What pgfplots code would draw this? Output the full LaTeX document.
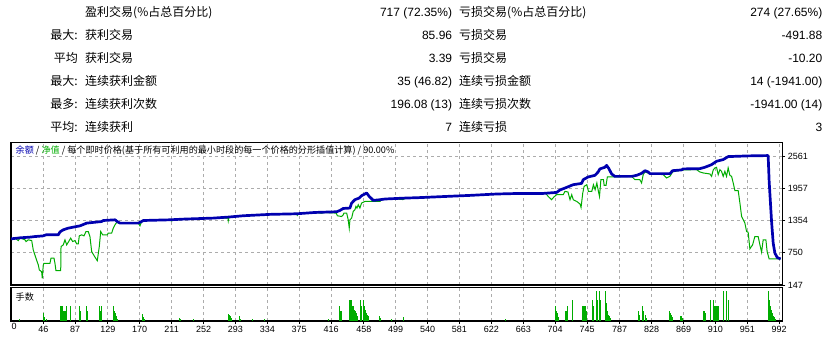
\documentclass[border=0pt]{standalone}
\usepackage{fontspec}
\setmainfont{Liberation Sans}
\newfontfamily\cjk{Noto Sans CJK SC}
\usepackage{pgfplots}
\pgfplotsset{compat=1.18}
\definecolor{bal}{RGB}{0,0,175}
\definecolor{eq}{RGB}{0,172,0}
\definecolor{gridc}{RGB}{172,172,172}
\begin{document}
\begin{tikzpicture}[x=1pt,y=1pt]
\useasboundingbox (0,0) rectangle (829,338);
\tikzset{
 tA/.style={anchor=base east, inner sep=0pt, font=\cjk\fontsize{12}{14}\selectfont},
 tB/.style={anchor=base west, inner sep=0pt, font=\cjk\fontsize{12}{14}\selectfont},
 tV/.style={anchor=base east, inner sep=0pt, font=\fontsize{12}{14}\selectfont}}
% row 1
\node[tB] at (85,321.3) {盈利交易(\%占总百分比)};
\node[tV] at (452.3,321.3) {717 (72.35\%)};
\node[tB] at (459,321.3) {亏损交易(\%占总百分比)};
\node[tV] at (822.5,321.3) {274 (27.65\%)};
% row 2
\node[tA] at (78,298.9) {最大:};
\node[tB] at (85,298.9) {获利交易};
\node[tV] at (452.3,298.9) {85.96};
\node[tB] at (459,298.9) {亏损交易};
\node[tV] at (822.5,298.9) {-491.88};
% row 3
\node[tA] at (78,275.9) {平均};
\node[tB] at (85,275.9) {获利交易};
\node[tV] at (452.3,275.9) {3.39};
\node[tB] at (459,275.9) {亏损交易};
\node[tV] at (822.5,275.9) {-10.20};
% row 4
\node[tA] at (78,252.6) {最大:};
\node[tB] at (85,252.6) {连续获利金额};
\node[tV] at (452.3,252.6) {35 (46.82)};
\node[tB] at (459,252.6) {连续亏损金额};
\node[tV] at (822.5,252.6) {14 (-1941.00)};
% row 5
\node[tA] at (78,229.6) {最多:};
\node[tB] at (85,229.6) {连续获利次数};
\node[tV] at (452.3,229.6) {196.08 (13)};
\node[tB] at (459,229.6) {连续亏损次数};
\node[tV] at (822.5,229.6) {-1941.00 (14)};
% row 6
\node[tA] at (78,206.6) {平均:};
\node[tB] at (85,206.6) {连续获利};
\node[tV] at (452.3,206.6) {7};
\node[tB] at (459,206.6) {连续亏损};
\node[tV] at (822.5,206.6) {3};

\begin{axis}[
 at={(11pt,53pt)}, anchor=south west, scale only axis,
 width=771.3pt, height=142.7pt,
 xmin=4.5, xmax=996, ymin=147, ymax=2824,
 axis line style={line width=1.2pt, black},
 xtick={46,87,129,170,211,252,293,334,375,416,458,499,540,581,622,663,704,745,787,828,869,910,951,992},
 xticklabels={},
 major x tick style={draw=none},
 ytick={147,750,1354,1957,2561},
 yticklabels={147,750,1354,1957,2561},
 xmajorgrids, ymajorgrids,
 grid style={gridc, dash pattern=on 3pt off 3pt, line width=1pt},
 ytick pos=right, yticklabel pos=right,
 tick align=outside, major tick length=3pt,
 major y tick style={black, line width=0.8pt},
 yticklabel style={font=\fontsize{9}{10}\selectfont, anchor=west, xshift=-1pt},
]
\addplot[eq, line width=1pt] coordinates {
(4.5,1013) (10.9,1013) (13.9,981) (16.1,1032) (22.5,994) (23.8,962) (26.7,994) (31.1,981) (33.1,806) (36.6,649) (39.6,523) (40.9,429) (43.9,397) (44.7,273) (46,523) (46.9,555) (54.6,555) (55.9,649) (59.8,649) (61,555) (62.3,416) (68.4,416) (68.8,868) (71.7,900) (73.9,994) (76.1,900) (79.4,981) (81.2,1026) (83.8,962) (86.7,981) (88.9,919) (91,919) (92.3,1069) (95.4,1088) (98.3,1069) (100.9,1150) (103.8,1150) (106,1056) (108.2,774) (112.5,668) (115.4,604) (118,868) (119.8,1150) (122.3,1088) (128.3,1088) (129.5,1120) (133.9,1120) (136,1214) (138.2,1276) (140.3,1320) (144.6,1308) (168.1,1308) (170.3,1257) (172.5,1338) (174.5,1357) (208.8,1370) (211,1346) (212.7,1370) (234.5,1383) (264.5,1402) (283.4,1402) (283.8,1352) (284.7,1421) (303,1446) (337.4,1472) (371.7,1483) (372.5,1455) (373.5,1483) (395.2,1508) (404.2,1493) (405,1508) (422.7,1496) (424,1446) (429.4,1432) (431.6,1464) (432.5,1496) (436,1496) (438,1370) (439.3,1214) (440.2,1370) (442.4,1402) (444.4,1527) (446.6,1559) (447.9,1621) (449.2,1590) (450.9,1653) (453,1590) (455.2,1685) (459.5,1715) (478.8,1715) (481,1747) (485.2,1760) (493.8,1766) (508.3,1750) (513.1,1779) (525.9,1775) (564.5,1809) (594.4,1828) (628.7,1854) (658.7,1865) (692,1865) (695,1809) (699.4,1747) (702.4,1798) (705.9,1841) (714.4,1841) (716.6,1903) (720.5,1892) (723.1,1747) (725.3,1841) (727.3,1747) (731.7,1715) (736,1666) (737.3,1602) (739.5,1873) (741.2,1997) (744.7,2029) (746.8,1903) (751.1,1903) (753.2,2029) (755.4,1935) (757.6,2061) (759.6,1903) (761,1809) (762.8,2123) (766.1,2123) (767,2016) (769.4,2016) (771.1,2174) (780.8,2174) (802.3,2185) (806.5,2123) (812.9,2123) (815.1,2061) (817.2,2217) (819.4,2268) (825.8,2236) (842.9,2217) (847.2,2155) (851.5,2185) (855,2268) (866.5,2306) (885.8,2311) (890,2268) (894.3,2249) (902.9,2230) (905.1,2185) (907.2,2306) (909.3,2343) (911.5,2355) (913.6,2217) (915.8,2311) (917.9,2279) (920,2185) (922.2,2279) (924.3,2185) (926.4,2343) (928.6,2204) (930.8,2185) (932.9,2061) (935.1,1916) (939.3,1916) (941.5,1685) (943.7,1432) (947.9,1308) (950.1,1150) (952.1,1138) (954.3,825) (957.8,900) (960.7,1056) (965,1056) (967.2,900) (969.4,762) (971.4,994) (974.9,994) (976.5,774) (979.1,636) (993.8,636)
};
\addplot[bal, line width=2.7pt, line join=round] coordinates {
(4.5,1013) (16.1,1032) (28.9,1045) (35.3,1056) (46,1069) (49.5,1088) (65.3,1088) (67.5,1144) (71.7,1182) (78.1,1214) (93.2,1257) (101.8,1308) (121.1,1338) (123.1,1357) (138.2,1370) (141.1,1338) (144.6,1308) (168.1,1308) (172.5,1338) (174.5,1357) (208.8,1370) (226,1383) (264.5,1402) (283.8,1421) (303,1446) (337.4,1472) (371.7,1483) (395.2,1508) (423.1,1521) (427.3,1545) (431.6,1583) (440.2,1590) (442.4,1685) (446.6,1747) (452.2,1779) (455.2,1822) (461.7,1873) (465,1809) (470.2,1734) (478.8,1747) (485.2,1760) (493.8,1766) (513.1,1779) (525.9,1784) (564.5,1809) (594.4,1828) (628.7,1854) (658.7,1865) (688.6,1865) (705.9,1884) (710.1,1929) (718.7,1978) (727.2,2029) (738,2053) (740.1,2123) (746.5,2174) (755.1,2204) (759.3,2268) (761.5,2325) (767.9,2355) (770.1,2392) (773.1,2330) (776.6,2230) (780.8,2185) (802.3,2185) (808.7,2204) (815.1,2242) (819.4,2292) (823.6,2268) (825.8,2236) (851.5,2236) (855,2292) (866.5,2306) (868.6,2325) (890,2330) (896.4,2355) (905.1,2405) (911.5,2468) (920,2500) (926.4,2556) (952.1,2569) (977.8,2575) (979.1,2091) (980.9,1653) (982.2,1338) (984.3,932) (986.5,744) (989.6,661) (993.8,636)
};
\end{axis}

\node[anchor=west, inner sep=0pt, font=\cjk\fontsize{9.1}{10}\selectfont] at (15.5,187.3)
 {\textcolor{bal}{余额} / \textcolor{eq}{净值} / 每个即时价格(基于所有可利用的最小时段的每一个价格的分形插值计算) / 90.00\%};

\begin{axis}[
 at={(11pt,17pt)}, anchor=south west, scale only axis,
 width=771.3pt, height=33.7pt,
 xmin=4.5, xmax=996, ymin=0, ymax=33.7,
 axis line style={line width=1.2pt, black},
 xtick={46,87,129,170,211,252,293,334,375,416,458,499,540,581,622,663,704,745,787,828,869,910,951,992},
 xticklabels={46,87,129,170,211,252,293,334,375,416,458,499,540,581,622,663,704,745,787,828,869,910,951,992},
 extra x ticks={8.5}, extra x tick labels={0},
 extra x tick style={grid=none, major tick length=0pt},
 ytick=\empty,
 xmajorgrids,
 grid style={gridc, dash pattern=on 3pt off 3pt, line width=1pt},
 xtick pos=bottom, tick align=outside, major tick length=3pt,
 major x tick style={black, line width=0.8pt},
 xticklabel style={font=\fontsize{9}{10}\selectfont, yshift=1pt},
]
\addplot[ycomb, eq, line width=1pt, no marks] coordinates {
(15.2,2)
(46,8) (46.9,6.3) (48.2,4) (49.5,2)
(67.5,15.3) (68.8,15.3) (70,15.3) (71.3,15.3) (72.6,9.7) (73.9,9.7) (75.2,9.7) (76.1,15.3)
(81.2,15.3)
(92.3,15.3) (93.2,9.7)
(101.8,15.3) (102.6,9.7)
(118,15.3) (119.3,9.7) (121.1,15.3)
(136,15.3) (137.3,9.7) (138.5,8) (140.3,4.7) (141.6,2)
(173.2,7.3) (174.5,4) (175.8,2)
(220.8,3) (222.1,1.7)
(239.7,2)
(283.8,7.3) (285.1,6.3) (286.4,4.7) (287.6,3)
(297.9,5.3) (299.2,2)
(314.6,2) (330,2) (412.3,2)
(427.3,15.3) (428.6,9.7) (429.9,9.7)
(440.2,21.3) (441.5,21.3) (442.8,21.3) (444,15.3) (445.3,15.3) (446.6,11.3) (447.9,9.7) (449.2,8) (450.5,4.7)
(454,21.3) (455.2,15.3)
(457.3,21.3) (458.6,15.3) (459.9,11.3) (461.2,8) (462.4,6.3) (463.7,4.7)
(478.8,5.3) (480,3)
(493.8,2) (509.6,4) (640.7,2)
(704.6,15.3) (705.9,9.7) (707.2,8) (708.5,4)
(717.8,9.7) (719.1,9.7) (720.4,15.3)
(726.8,21.3)
(738.8,15.3) (740.1,15.3) (741.4,15.3) (742.6,15.3) (743.9,9.7)
(751.6,21.3) (752.9,15.3)
(757.6,30.3) (758.9,21.3)
(761.5,30.3) (762.8,21.3)
(769.2,30.3) (770.5,18) (771.8,9.7) (773.1,6.3) (774.4,4.7) (775.7,3)
(811.7,9.7) (813,6.3)
(816.9,15.3) (818.2,9.7) (819.5,6.3) (820.8,3)
(851.5,9.7) (852.8,8) (854.1,6.3) (855.4,4)
(865.6,5.3) (866.9,4.7) (868.2,3)
(894.8,9.7) (896.1,9.7) (897.4,8)
(904.2,21.3)
(907.6,21.3) (908.9,15.3) (910.2,15.3) (911.5,15.3) (912.8,15.3) (914.1,15.3)
(920.9,30.3) (924.8,30.3) (926.4,21.3)
(978.4,30.3) (979.7,21.3) (981,15.3) (982.2,11.3) (983.5,8) (984.8,5.3) (986.1,4) (987.4,2)
};
\end{axis}
\node[anchor=west, inner sep=0pt, font=\cjk\fontsize{9.1}{10}\selectfont] at (15.5,41.3) {手数};
\end{tikzpicture}
\end{document}
